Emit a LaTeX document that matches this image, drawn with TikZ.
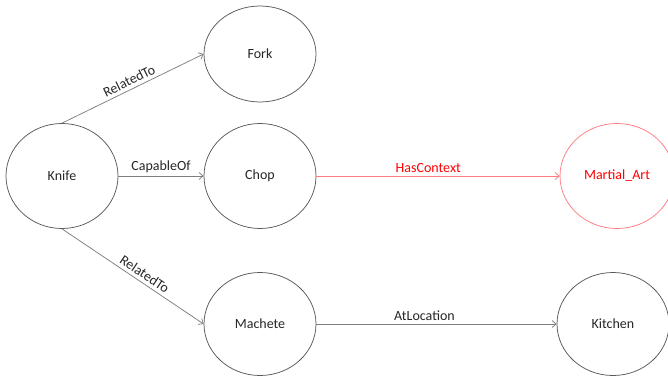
\documentclass[tikz,border=0pt]{standalone}
\usepackage{fontspec}
\setmainfont{Carlito}
\usepackage{xcolor}
\usetikzlibrary{arrows.meta, shapes.geometric}
\definecolor{rimgray}{HTML}{595959}
\definecolor{linegray}{HTML}{7F7F7F}
\definecolor{txtgray}{HTML}{262626}
\definecolor{ctxred}{HTML}{FF0000}
\definecolor{ctxline}{HTML}{FF7C80}

\begin{document}
\begin{tikzpicture}[x=1pt, y=-1pt,
    concept/.style={ellipse, draw=rimgray, line width=0.75pt, text=txtgray,
      minimum width=112pt, minimum height=105pt, inner sep=0pt,
      font=\fontsize{14}{16}\selectfont},
    rel/.style={-{Straight Barb[length=4pt, width=7pt]}, linegray,
      line width=0.75pt},
    lbl/.style={font=\fontsize{14}{16}\selectfont, text=txtgray}]
    \useasboundingbox (0,0) rectangle (668,377);
    % --- Concepts ---
    \node[concept] (knife) at (62,176) {Knife};
    \node[concept, minimum height=96pt] (fork) at (260,54) {Fork};
    \node[concept] (chop) at (260,176) {Chop};
    \node[concept, draw=ctxline, text=ctxred, minimum width=114pt]
      (martial) at (617,176) {Martial\_Art};
    \node[concept, minimum height=103pt] (machete) at (260,324) {Machete};
    \node[concept, minimum height=103pt] (kitchen) at (613,324) {Kitchen};
    % --- Relations ---
    \draw[rel] (knife.north) -- (fork.west)
      node[midway, above, sloped, lbl] {RelatedTo};
    \draw[rel] (knife.east) -- (chop.west)
      node[midway, above, lbl] {CapableOf};
    \draw[rel] (knife.south) -- (machete.west)
      node[pos=0.55, above, sloped, lbl] {RelatedTo};
    \draw[rel, ctxline] (chop.east) -- (martial.west)
      node[pos=0.46, above, lbl, text=ctxred] {HasContext};
    \draw[rel] (machete.east) -- (kitchen.west)
      node[pos=0.45, above, lbl] {AtLocation};
\end{tikzpicture}
\end{document}
